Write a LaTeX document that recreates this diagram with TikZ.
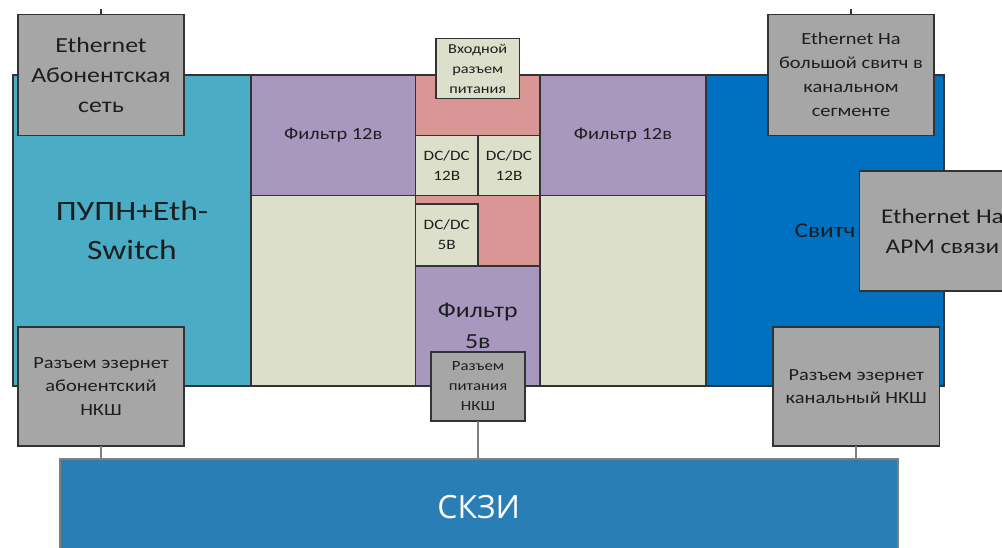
\documentclass[tikz,border=0pt]{standalone}
\usepackage{fontspec}
\setmainfont{Carlito}[FakeStretch=1.2]
\newfontfamily\skzifont{Open Sans}
\newcommand{\fsz}[2]{\fontsize{#1}{#2}\selectfont}
\definecolor{cCyan}{HTML}{4BACC6}
\definecolor{cPurple}{HTML}{A898BF}
\definecolor{cGreen}{HTML}{DCE0CA}
\definecolor{cPink}{HTML}{D99694}
\definecolor{cSwitch}{HTML}{0070C0}
\definecolor{cGray}{HTML}{A6A6A6}
\definecolor{cSkzi}{HTML}{2A7EB6}
\definecolor{cEdge}{HTML}{333333}
\definecolor{cLine}{HTML}{7F7F7F}
\definecolor{cText}{HTML}{1E1E1E}
\tikzset{
  blk/.style={draw=cEdge, line width=1.3pt, inner sep=0pt, outer sep=0pt, align=center, text=cText},
  gbox/.style={blk, fill=cGray},
  conn/.style={draw=cLine, line width=2pt},
}
\begin{document}
\begin{tikzpicture}[x=1pt,y=-1pt]
\useasboundingbox (0,0) rectangle (1002,548);
\clip (0,0) rectangle (1002,548);
% main board blocks
\node[blk, fill=cCyan, minimum width=238pt, minimum height=311pt, font=\fsz{28}{39}] (pupn) at (132,230.5) {ПУПН+Eth-\\Switch};
\node[blk, fill=cPurple, minimum width=164.5pt, minimum height=120.5pt, font=\fsz{17}{20}] (f12l) at (333.25,135.25) {Фильтр 12в};
\node[blk, fill=cGreen, minimum width=164.5pt, minimum height=190.5pt] (gl) at (333.25,290.75) {};
\node[blk, fill=cPink, minimum width=124.5pt, minimum height=60.5pt] (pinkTop) at (477.75,105.25) {};
\node[blk, fill=cGreen, minimum width=62.5pt, minimum height=60pt, font=\fsz{14.3}{20}] (dc1) at (446.75,165.5) {DC/DC\\12В};
\node[blk, fill=cGreen, minimum width=62pt, minimum height=60pt, font=\fsz{14.3}{20}] (dc2) at (509,165.5) {DC/DC\\12В};
\node[blk, fill=cPink, minimum width=124.5pt, minimum height=70.5pt] (pinkMid) at (477.75,230.75) {};
\node[blk, fill=cGreen, minimum width=62.5pt, minimum height=61.5pt, font=\fsz{14.3}{20}] (dc5) at (446.75,234.75) {DC/DC\\5В};
\node[blk, fill=cPurple, minimum width=124.5pt, minimum height=120pt, line width=1.6pt, font=\fsz{21.5}{31}] (f5) at (477.75,326) {Фильтр\\5в};
\node[blk, fill=cPurple, minimum width=166pt, minimum height=120.5pt, font=\fsz{17}{20}] (f12r) at (623,135.25) {Фильтр 12в};
\node[blk, fill=cGreen, minimum width=166pt, minimum height=190.5pt] (gr) at (623,290.75) {};
\node[blk, fill=cSwitch, minimum width=238pt, minimum height=311pt, font=\fsz{21}{30}] (sw) at (825,230.5) {Свитч};
% connectors and small boxes
\node[blk, fill=cGreen, minimum width=83.5pt, minimum height=60pt, font=\fsz{13.6}{20}] (inp) at (477.75,68.5) {Входной\\разъем\\питания};
\node[gbox, minimum width=166pt, minimum height=121pt, font=\fsz{21.5}{30}] (ethA) at (101,75) {Ethernet\\Абонентская\\сеть};
\node[gbox, minimum width=166pt, minimum height=121pt, font=\fsz{17}{24}] (ethB) at (851,75) {Ethernet На\\большой свитч в\\канальном\\сегменте};
\node[gbox, minimum width=166pt, minimum height=120pt, font=\fsz{21}{30}] (arm) at (942.5,231) {Ethernet На\\АРМ связи};
\node[gbox, minimum width=166pt, minimum height=119pt, font=\fsz{17}{23.3}] (rzA) at (101,386.5) {Разъем эзернет\\абонентский\\НКШ};
\node[gbox, minimum width=94pt, minimum height=69pt, font=\fsz{14}{20}] (rzP) at (478,386.5) {Разъем\\питания\\НКШ};
\node[gbox, minimum width=166.5pt, minimum height=119pt, font=\fsz{17}{23}] (rzK) at (856.25,386.5) {Разъем эзернет\\канальный НКШ};
\node[draw=cLine, line width=2pt, fill=cSkzi, inner sep=0pt, minimum width=838.5pt, minimum height=97pt, text=white, font=\skzifont\fsz{32}{38}] (skzi) at (478.75,507.5) {СКЗИ};
% links
\coordinate (tA) at (101,9);
\coordinate (tB) at (851,9);
\draw[conn, draw=cEdge, line width=1.3pt] (ethA.north) -- (tA);
\draw[conn, draw=cEdge, line width=1.3pt] (ethB.north) -- (tB);
\draw[conn] (rzA.south) -- (rzA.south |- skzi.north);
\draw[conn] (rzP.south) -- (rzP.south |- skzi.north);
\draw[conn] (rzK.south) -- (rzK.south |- skzi.north);
\end{tikzpicture}
\end{document}
